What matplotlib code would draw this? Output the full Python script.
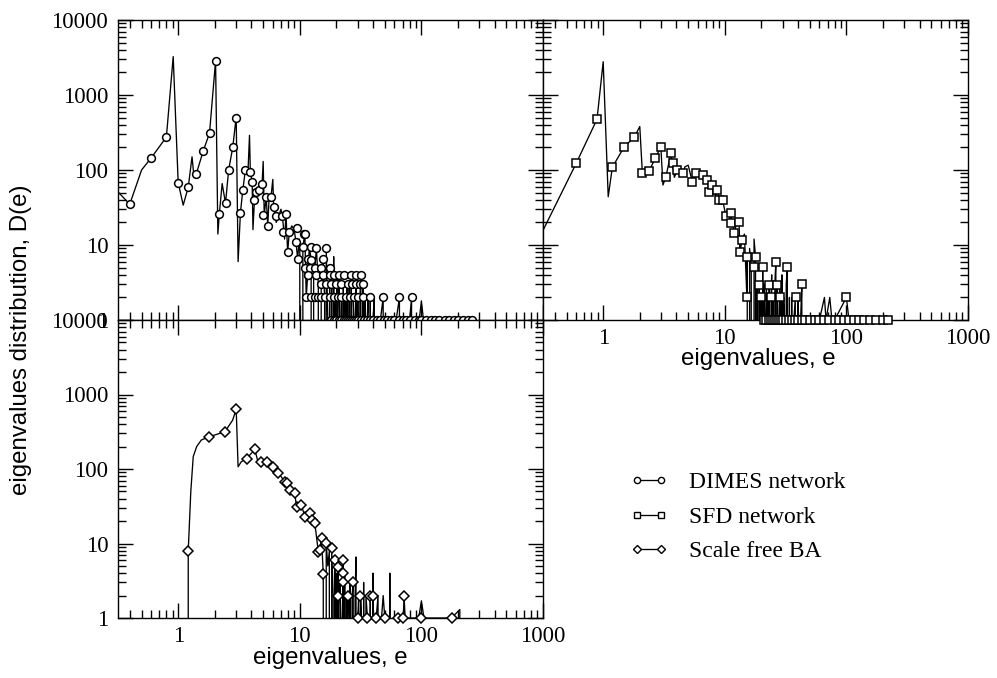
"""
Eigenvalue distributions D(e) for the DIMES, SFD and BA networks
(three log-log panels, shared legend).
"""

import matplotlib
matplotlib.use("Agg")
import matplotlib.pyplot as plt
from matplotlib.lines import Line2D
from matplotlib.ticker import LogLocator, FuncFormatter, NullFormatter

# ---------------- data ----------------

# DIMES network: line through the fine histogram (0 = empty bin)
dimes_line_e = [0.32, 0.40, 0.50, 0.60, 0.80, 0.91, 1.00, 1.10, 1.21, 1.30, 1.35, 1.41, 1.61, 1.81,
                2.03, 2.12, 2.18, 2.30, 2.45, 2.60, 2.81, 3.00, 3.11, 3.25, 3.40, 3.57, 3.75, 3.86,
                3.92, 4.06, 4.12, 4.24, 4.37, 4.66, 4.90, 5.00, 5.10, 5.30, 5.45, 5.60, 5.80, 6.00,
                6.10, 6.40, 6.70, 7.00, 7.20, 7.50, 7.70, 7.95, 8.20, 8.60, 9.00, 9.30, 9.60, 9.90,
                10.0, 10.3, 10.6, 11.0, 11.3, 11.6, 12.0, 12.4, 12.7, 13.0, 13.3, 13.7, 14.2, 14.6,
                15.0, 15.5, 16.0, 16.2, 16.5,
                17.0, 17.3, 17.6, 18.0, 18.3, 18.6, 19.0, 19.3, 19.6, 20.0, 20.3, 20.6, 21.0, 21.3,
                21.6, 22.0, 22.4, 22.8, 23.2, 23.6, 24.0, 24.5, 25.0, 25.5, 26.0, 26.5, 27.0, 27.5,
                28.0, 28.5, 29.0, 29.5, 30.0, 30.6, 31.2, 31.8, 32.4, 33.0, 33.6, 34.3, 35.0, 35.8,
                36.5, 37.3, 38.0, 39.0, 40.0, 41.0, 42.0, 43.0, 44.5, 46.0, 48.5, 50.0, 52.0, 54.0,
                57.0, 59.0, 62.0, 66.0, 69.0, 72.0, 76.0, 80.0, 83.0, 86.0, 90.0, 96.0, 100, 104,
                120, 140, 150, 180, 220, 260]
dimes_line_d = [51, 35, 100, 145, 275, 3250, 68, 34, 59, 150, 80, 89, 181, 310,
                2850, 14, 26, 66, 36, 100, 200, 510, 6, 27, 54, 100, 95, 290,
                95, 70, 16, 40, 51, 54, 66, 130, 25, 44, 18, 44, 44, 75,
                32, 20, 24, 30, 24, 12, 26, 8, 15, 18, 16, 11, 6.6, 12,
                9, 0, 9.5, 14, 2, 4, 9.5, 6.3, 0, 4, 5, 9, 3, 0,
                3, 6.6, 2, 0, 9,
                1, 0, 5, 0, 3, 0, 7, 0, 2, 0, 4, 0, 4, 1,
                0, 2, 0, 3, 0, 2, 0, 3, 0, 3, 0, 4, 0, 2,
                1, 0, 3, 0, 2, 0, 2, 4, 0, 3, 0, 2, 0, 1,
                2, 0, 2, 0, 1, 2, 0, 1, 0, 1, 2, 0, 1, 0,
                1, 0, 1, 2, 0, 1, 0, 1, 2, 0, 1, 1, 1.8, 1,
                1, 1, 1, 1, 1, 1]

# DIMES network: symbols
dimes_sym_e = [0.40, 0.60, 0.80, 1.00, 1.21, 1.41, 1.61, 1.81, 2.03, 2.18, 2.45, 2.60, 2.81, 3.00,
               3.25, 3.40, 3.57, 3.86, 4.06, 4.24, 4.37, 4.66, 4.90, 5.00, 5.30, 5.45, 5.80, 6.10,
               6.40, 7.20, 7.30, 7.70, 7.95, 8.20, 9.30, 9.40, 9.60, 10.6, 10.9, 11.0, 11.6, 11.7,
               12.4, 12.4, 13.7, 15.5, 16.5,
               11.0, 12.2, 13.3, 15.0, 17.6,
               11.6, 13.5, 15.5, 17.6, 19.0, 21.0, 23.0, 26.5, 29.0, 32.0,
               15.0, 16.5, 18.2, 20.0, 22.0, 25.0, 27.0, 29.0, 31.0, 33.0,
               11.3, 12.3, 13.3, 14.2, 15.0, 16.0, 17.6, 19.0, 20.5, 22.0, 24.0, 26.0, 28.0, 30.0,
               33.0, 38.0, 48.5, 66.0, 83.0,
               18, 19, 20, 21, 22, 23, 24, 25, 26, 27, 28, 29, 30, 32, 34, 36, 38, 40, 43, 46,
               49, 52, 56, 60, 65, 70, 75, 80, 88, 95, 100, 110, 120, 130, 140, 155, 170, 185,
               200, 220, 240, 260]
dimes_sym_d = [35, 145, 275, 68, 59, 88, 181, 310, 2800, 26, 36, 100, 200, 500,
               27, 54, 100, 95, 70, 40, 51, 54, 66, 25, 44, 18, 44, 32,
               24, 24, 15, 26, 8, 15, 11, 16.6, 6.6, 9.5, 14, 14, 4, 6.6,
               9.5, 6.3, 9, 6.6, 9,
               5, 5, 5, 5, 5,
               4, 4, 4, 4, 4, 4, 4, 4, 4, 4,
               3, 3, 3, 3, 3, 3, 3, 3, 3, 3,
               2, 2, 2, 2, 2, 2, 2, 2, 2, 2, 2, 2, 2, 2,
               2, 2, 2, 2, 2,
               1, 1, 1, 1, 1, 1, 1, 1, 1, 1, 1, 1, 1, 1, 1, 1, 1, 1, 1, 1,
               1, 1, 1, 1, 1, 1, 1, 1, 1, 1, 1, 1, 1, 1, 1, 1, 1, 1,
               1, 1, 1, 1]

# SFD network
sfd_line_e = [0.316, 0.60, 0.89, 1.00, 1.10, 1.19, 1.49, 1.80, 2.00, 2.10, 2.39, 2.68, 2.98, 3.10,
              3.28, 3.60, 3.72, 3.85, 4.08, 4.30, 4.50, 4.70, 5.00, 5.40, 5.80, 6.20, 6.60, 7.20,
              7.45, 7.90, 8.40, 8.70, 8.90, 9.60, 10.2, 10.6, 11.2, 11.6, 12.0, 12.5, 13.1, 13.3,
              13.9, 14.5, 15.2, 15.3, 15.8, 16.0, 16.5, 17.0, 17.4, 17.9, 18.2, 18.5, 18.8, 19.2,
              19.5, 19.8, 20.1, 20.5, 20.8, 21.1, 21.4, 21.7, 22.0, 22.3, 22.7, 23.0, 23.2, 23.6,
              24.0, 24.3, 24.6, 25.0, 25.4, 25.8, 26.3, 26.7, 27.0, 27.4, 27.8, 28.2, 28.7, 29.1,
              29.5, 30.0, 30.5, 31.0, 31.5, 32.0, 32.7, 33.3, 34.0, 34.7, 35.5, 36.3, 37.0, 38.0,
              39.0, 40.0, 41.0, 42.0, 43.0, 44.5, 46.0, 48.0, 50.0, 55.0, 60.0, 66.0, 68.0, 73.0,
              76.0, 80.0, 100, 105, 150, 220]
sfd_line_d = [15, 123, 475, 2780, 44, 109, 204, 273, 380, 91, 98, 143, 204, 63,
              81, 166, 123, 80, 100, 85, 90, 110, 116, 70, 90, 80, 86, 73,
              51, 63, 45, 54, 40, 40, 24.5, 30, 26.4, 19, 14.3, 20, 20.4, 8.1,
              11.7, 14, 2, 7, 0, 9, 5, 0, 12, 7, 0, 3, 0, 2.9,
              0, 2, 0, 5.1, 0, 3, 1, 0, 3, 0, 2, 0, 2.9, 0,
              2, 4, 0, 2, 0, 3, 6, 0, 2.9, 1, 0, 3, 2, 0,
              4, 0, 2, 1, 0, 3, 5.1, 0, 2, 0, 2, 0, 1, 2,
              0, 2, 0, 1, 3, 0, 1, 0, 1, 1, 1, 2, 1, 2,
              1, 1, 2, 1, 1, 1]

sfd_sym_e = [0.60, 0.89, 1.19, 1.49, 1.80, 2.10, 2.39, 2.68, 2.98, 3.28, 3.60, 3.72, 4.08, 4.50,
             5.40, 5.80, 6.60, 7.20, 7.45, 7.90, 8.70, 8.90, 9.60, 10.2, 11.2, 11.2, 12.0, 13.1,
             13.3, 13.9, 15.3, 17.9, 15.2, 17.4, 20.5, 26.3, 32.7, 19.2, 23.2, 27.0, 43.0,
             19.8, 24.0, 28.7, 38.5, 100,
             21, 22, 23, 24, 25, 26, 27, 28, 29, 30, 32, 34, 36, 38, 40, 43, 46, 50, 55, 60,
             66, 72, 80, 87, 95, 105, 115, 127, 140, 155, 175, 200, 220]
sfd_sym_d = [123, 475, 109, 204, 273, 90, 98, 143, 204, 81, 166, 123, 100, 90,
             70, 90, 86, 73, 51, 63, 54, 40, 40, 24.5, 26.4, 19.4, 14.3, 20.4,
             8.1, 11.7, 7, 7, 2, 5.1, 5.1, 6, 5.1, 2.9, 2.9, 2.9, 3,
             2, 2, 2, 2, 2,
             1, 1, 1, 1, 1, 1, 1, 1, 1, 1, 1, 1, 1, 1, 1, 1, 1, 1, 1, 1,
             1, 1, 1, 1, 1, 1, 1, 1, 1, 1, 1, 1, 1]

# Scale free BA
ba_line_e = [1.10, 1.16, 1.21, 1.27, 1.33, 1.42, 1.55, 1.80, 2.42, 2.80, 3.00, 3.11, 3.30, 3.65,
             4.27, 4.50, 4.77, 5.50, 6.05, 6.60, 7.00, 7.50, 7.80, 8.30, 9.10, 9.40, 10.3, 11.0,
             12.1, 12.5, 13.3, 14.2, 14.6, 15.1, 15.6, 16.0, 16.5, 17.0, 17.5, 18.0, 18.3, 18.8,
             19.1, 19.4, 19.7, 20.0, 20.4, 20.7, 21.0, 21.4, 21.8, 22.2, 22.7, 23.0, 23.4, 23.8,
             24.2, 24.6, 25.0, 25.4, 25.9, 26.4, 26.9, 27.5, 28.0, 28.5, 29.0, 29.5, 30.0, 30.5,
             31.0, 31.6, 32.2, 32.8, 33.5, 34.2, 35.0, 36.0, 37.0, 38.0, 39.0, 40.0, 41.0, 42.5,
             44.0, 45.5, 47.0, 48.5, 50.0, 52.0, 55.0, 57.0, 64.0, 71.0, 72.0, 73.5, 95.0, 100,
             105, 177, 207, 212]
ba_line_d = [0, 0, 8, 50, 147, 200, 245, 271, 316, 450, 633, 107, 125, 138,
             183, 130, 126, 126, 105, 88, 80, 67, 64, 52, 47, 31, 33, 23,
             25.6, 20.7, 18.6, 7.8, 8.2, 11.7, 3.9, 0, 10.1, 5, 8, 0, 8.6, 2,
             0, 6, 0, 4, 0, 4.9, 0, 3, 1, 0, 6, 0, 4, 0,
             2, 1, 2, 0, 3, 0, 2, 3, 0, 2, 6.6, 0, 1, 2,
             0, 2, 1, 0, 3, 0, 2, 1, 0, 2, 0, 4, 0, 1,
             2, 0, 1, 2, 1, 0, 4, 0, 1, 1, 2, 1, 1, 1.7,
             1, 1, 1.3, 0]

ba_sym_e = [1.21, 1.80, 2.42, 3.00, 3.65, 4.27, 4.77, 5.40, 6.05, 6.60, 7.50, 7.80, 8.30, 9.10,
            9.40, 10.3, 11.0, 12.1, 12.5, 13.3, 14.2, 14.6, 15.1, 15.6, 16.5, 18.3, 19.4, 20.7,
            22.7, 22.7, 22.7, 27.5, 20.7, 25.0, 31.0, 38.0, 40.0, 72.0,
            30.0, 36.0, 42.5, 50.0, 64.0, 71.0, 100, 177]
ba_sym_d = [8, 271, 316, 633, 138, 183, 126, 126, 105, 88, 67, 64, 52, 47,
            31, 33, 23, 25.6, 20.7, 18.6, 7.8, 8.2, 11.7, 3.9, 10.1, 8.6, 6, 4.9,
            6, 4, 3, 3, 2, 2, 2, 2, 2, 2,
            1, 1, 1, 1, 1, 1, 1, 1]

series_labels = ["DIMES network", "SFD network", "Scale free BA"]
series_markers = ["o", "s", "D"]

# ---------------- style ----------------

W, H = 997, 678
SERIF = "Liberation Serif"
SANS = "Liberation Sans"
TICK_FS = 16.5
LABEL_FS = 17.3
LW = 0.95
MSIZE = {"o": 5.6, "s": 5.4, "D": 4.6}


def setup_axes(ax, show_x, show_y):
    ax.set_xscale("log")
    ax.set_yscale("log")
    ax.set_xlim(0.32, 1000)
    ax.set_ylim(1, 10000)
    for axis in (ax.xaxis, ax.yaxis):
        axis.set_major_locator(LogLocator(base=10, numticks=12))
        axis.set_minor_locator(LogLocator(base=10, subs=range(2, 10), numticks=12))
        axis.set_major_formatter(FuncFormatter(lambda v, p: f"{v:g}"))
        axis.set_minor_formatter(NullFormatter())
    ax.tick_params(which="both", direction="in", top=True, right=True, width=1.0,
                   labelsize=TICK_FS, labelbottom=show_x, labelleft=show_y)
    ax.tick_params(which="major", length=11, pad=7)
    ax.tick_params(which="minor", length=5.5)
    ax.tick_params(axis="x", pad=6)
    for lab in ax.get_xticklabels() + ax.get_yticklabels():
        lab.set_family(SERIF)
    for sp in ax.spines.values():
        sp.set_linewidth(1.0)


def draw_series(ax, line_e, line_d, sym_e, sym_d, marker):
    ax.plot(line_e, line_d, color="black", lw=LW, zorder=2)
    ax.plot(sym_e, sym_d, linestyle="none", marker=marker, ms=MSIZE[marker],
            mfc="white", mec="black", mew=1.1, clip_on=False, zorder=3)


def main():
    fig = plt.figure(figsize=(W / 100, H / 100), dpi=100)

    left, right = 118 / W, 543 / W
    pw = 425 / W
    ax_tl = fig.add_axes([left, 1 - 320 / H, pw, 300 / H])
    ax_tr = fig.add_axes([right, 1 - 320 / H, pw, 300 / H])
    ax_bl = fig.add_axes([left, 1 - 618 / H, pw, 298 / H])

    draw_series(ax_tl, dimes_line_e, dimes_line_d, dimes_sym_e, dimes_sym_d, "o")
    draw_series(ax_tr, sfd_line_e, sfd_line_d, sfd_sym_e, sfd_sym_d, "s")
    draw_series(ax_bl, ba_line_e, ba_line_d, ba_sym_e, ba_sym_d, "D")

    setup_axes(ax_tl, show_x=False, show_y=True)
    setup_axes(ax_tr, show_x=True, show_y=False)
    setup_axes(ax_bl, show_x=True, show_y=True)

    # axis titles
    fig.text(758 / W, 1 - 359 / H, "eigenvalues, e", family=SANS, fontsize=LABEL_FS,
             ha="center", va="center")
    fig.text(330 / W, 1 - 658 / H, "eigenvalues, e", family=SANS, fontsize=LABEL_FS,
             ha="center", va="center")
    fig.text(21 / W, 1 - 340 / H, "eigenvalues distribution, D(e)", family=SANS,
             fontsize=LABEL_FS, rotation=90, ha="center", va="center")

    # legend
    handles = [Line2D([], [], color="black", lw=LW, marker=m, ms=MSIZE[m] * 0.8,
                      mfc="white", mec="black", mew=1.0) for m in series_markers]
    fig.legend(handles, series_labels, loc="center left", bbox_to_anchor=(630 / W, 1 - 517 / H),
               frameon=False, numpoints=2, handlelength=1.6, handletextpad=0.9,
               labelspacing=0.55, borderpad=0, borderaxespad=0,
               prop={"family": SERIF, "size": 17})

    fig.savefig("out.png", dpi=100)
    plt.close(fig)


if __name__ == "__main__":
    main()
